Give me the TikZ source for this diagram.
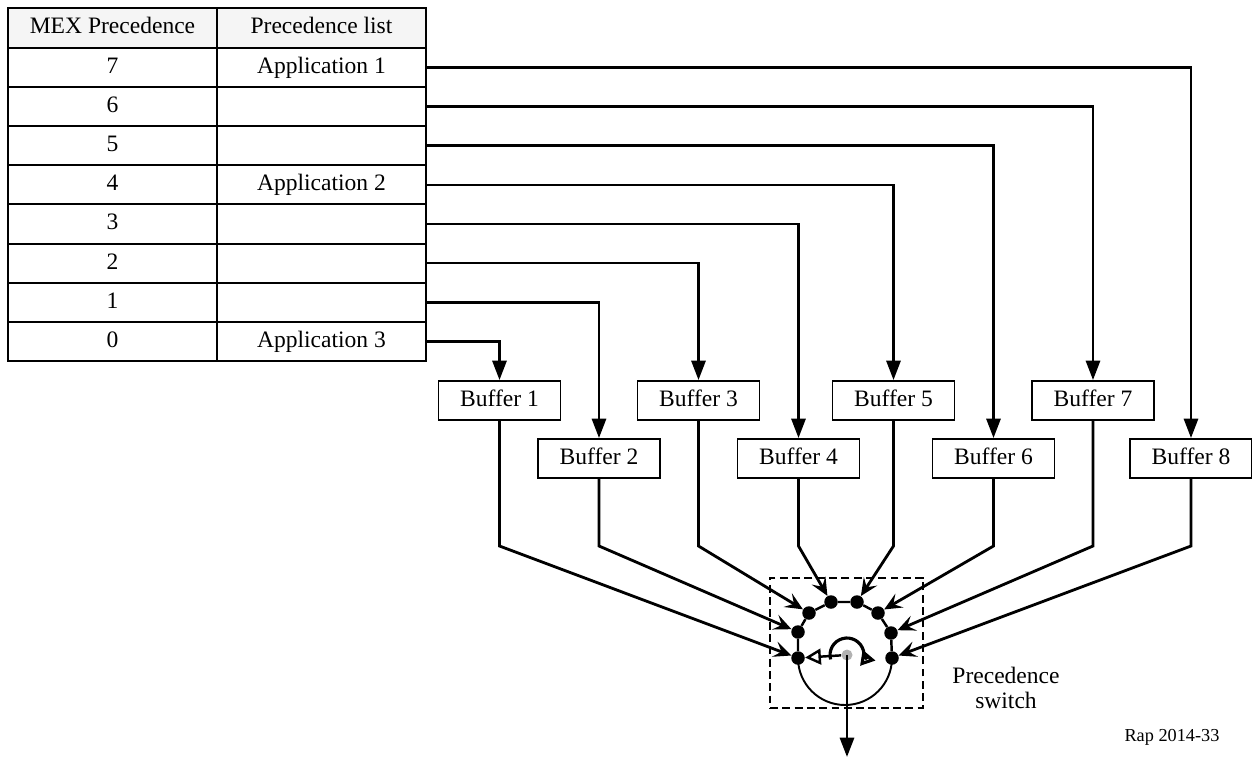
\documentclass[tikz,border=0pt]{standalone}
\usepackage{fontspec}
\setmainfont{Liberation Serif}
\usetikzlibrary{arrows.meta,positioning}

\begin{document}
\begin{tikzpicture}[
  x=0.02cm, y=-0.02cm,
  every node/.style={font=\fontsize{13.4}{14.5}\selectfont},
  cell/.style={draw, line width=1.1pt, minimum width=4.18cm, minimum height=0.78cm, inner sep=0pt, outer sep=0pt, text height=0.88em, text depth=0.2em},
  headcell/.style={cell, fill=gray!8, minimum height=0.8cm},
  bufbox/.style={draw, line width=1.1pt, minimum width=2.44cm, minimum height=0.78cm, inner sep=0pt, text height=0.88em, text depth=0.2em},
  swdot/.style={circle, fill=black, inner sep=0pt, minimum size=0.27cm},
  feed/.style={line width=1.5pt, -{Triangle[length=11pt,width=8pt]}},
  tap/.style={line width=1.6pt, -{Stealth[length=10pt,width=9pt,inset=4pt]}},
  >=stealth
]
\useasboundingbox (0,0) rectangle (1252,758);

% Precedence table
\node[headcell] (h1) at (112.5,28) {MEX Precedence};
\node[headcell] (h2) at (321.5,28) {Precedence list};
\foreach \p/\app [count=\i from 0] in {7/Application 1,6/,5/,4/Application 2,3/,2/,1/,0/Application 3}{
  \node[cell] (p\p) at (112.5,{67.6+39.1*\i}) {\p};
  \node[cell] (a\p) at (321.5,{67.6+39.1*\i}) {\app};
}

% Buffers
\node[bufbox] (b1) at (499.5,400.5) {Buffer 1};
\node[bufbox] (b2) at (599,458.5) {Buffer 2};
\node[bufbox] (b3) at (698.5,400.5) {Buffer 3};
\node[bufbox] (b4) at (798.5,458.5) {Buffer 4};
\node[bufbox] (b5) at (893.5,400.5) {Buffer 5};
\node[bufbox] (b6) at (993.5,458.5) {Buffer 6};
\node[bufbox] (b7) at (1093,400.5) {Buffer 7};
\node[bufbox] (b8) at (1191,458.5) {Buffer 8};

\foreach \p [count=\b] in {0,...,7}
  \draw[feed] (a\p.east) -| (b\b.north);

% Precedence switch
\node[draw, line width=1.1pt, dash pattern=on 4.5pt off 2.5pt, minimum width=3.06cm, minimum height=2.6cm] (swbox) at (846.5,643) {};
\foreach \n/\x/\y in {1/798/658, 2/798/632, 3/809/613, 4/831/602, 5/857/602, 6/878/613, 7/891/633, 8/892/658}
  \node[swdot] (d\n) at (\x,\y) {};
\draw[line width=1.4pt] (d1) -- (d2) -- (d3) -- (d4) -- (d5) -- (d6) -- (d7) -- (d8);
\draw[line width=1.1pt] (d1.center) arc[start angle=180, end angle=360, radius=0.94cm];
\node[circle, fill=gray!60, inner sep=0pt, minimum size=0.22cm] (sw) at (847,655) {};

\coordinate (bend) at (0,546);
\foreach \b in {1,...,8}
  \draw[tap] (b\b.south) -- (b\b.south |- bend) -- (d\b);

\draw[line width=1.4pt, -{Triangle[open,length=9pt,width=9pt]}] (sw) -- (d1);
\draw[line width=1.8pt, -{Triangle[open,length=8pt,width=9pt]}] ([shift={(195:0.34cm)}]sw.center) arc[start angle=195, end angle=-40, radius=0.34cm];
\coordinate (out) at (847,757);
\draw[line width=1.6pt, -{Triangle[length=11pt,width=8pt]}] (sw.center) -- (out);

\node[align=center] (swlabel) at (1006,688) {Precedence\\switch};
\node[font=\fontsize{10.4}{12}\selectfont] (rap) at (1172,737) {Rap 2014-33};
\end{tikzpicture}
\end{document}
